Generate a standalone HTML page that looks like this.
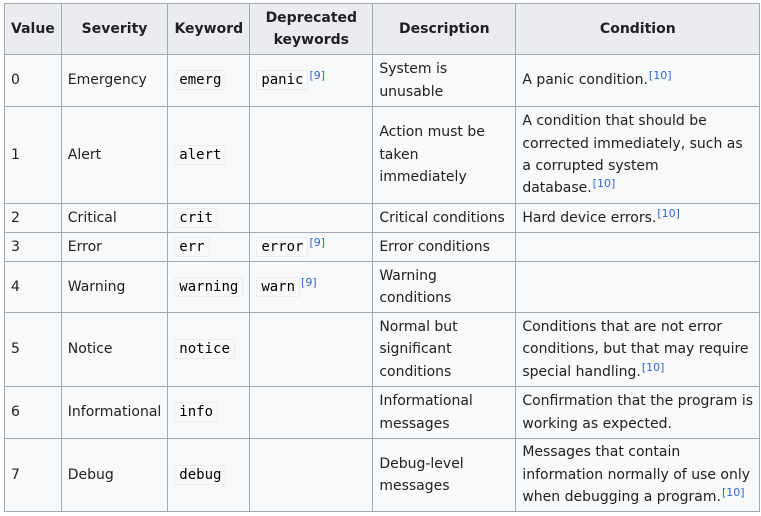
<!DOCTYPE html>
<html><head><meta charset="utf-8"><style>
body{margin:0;background:#fff;}
table{position:absolute;left:4px;top:3px;border-collapse:collapse;font-family:"DejaVu Sans","Liberation Sans",sans-serif;font-size:14px;color:#202122;line-height:22.4px;table-layout:fixed;}
td,th{border:1px solid #a2a9b1;padding:0 6px;vertical-align:middle;background:#f8f9fa;text-align:left;}
th{background:#eaecf0;font-weight:bold;text-align:center;}
code{font-family:"DejaVu Sans Mono","Liberation Mono",monospace;font-size:14px;background:#f8f9fa;border:1px solid #eaecf0;border-radius:2px;padding:1px 4px;color:#000;}
sup{color:#3366cc;font-size:11px;line-height:0;vertical-align:5px;margin-left:1px;}
</style></head><body>
<table>
<colgroup><col style="width:55px"><col style="width:106px"><col style="width:82px"><col style="width:123px"><col style="width:143px"><col style="width:244px"></colgroup>
<tr style="height:51px"><th>Value</th><th>Severity</th><th>Keyword</th><th>Deprecated<br>keywords</th><th>Description</th><th>Condition</th></tr>
<tr style="height:52px"><td>0</td><td>Emergency</td><td><code>emerg</code></td><td><code>panic</code><sup>[9]</sup></td><td>System is<br>unusable</td><td>A panic condition.<sup>[10]</sup></td></tr>
<tr style="height:97px"><td>1</td><td>Alert</td><td><code>alert</code></td><td></td><td>Action must be<br>taken<br>immediately</td><td>A condition that should be<br>corrected immediately, such as<br>a corrupted system<br>database.<sup>[10]</sup></td></tr>
<tr style="height:29px"><td>2</td><td>Critical</td><td><code>crit</code></td><td></td><td>Critical conditions</td><td>Hard device errors.<sup>[10]</sup></td></tr>
<tr style="height:29px"><td>3</td><td>Error</td><td><code>err</code></td><td><code>error</code><sup>[9]</sup></td><td>Error conditions</td><td></td></tr>
<tr style="height:51px"><td>4</td><td>Warning</td><td><code>warning</code></td><td><code>warn</code><sup>[9]</sup></td><td>Warning<br>conditions</td><td></td></tr>
<tr style="height:74px"><td>5</td><td>Notice</td><td><code>notice</code></td><td></td><td>Normal but<br>significant<br>conditions</td><td>Conditions that are not error<br>conditions, but that may require<br>special handling.<sup>[10]</sup></td></tr>
<tr style="height:52px"><td>6</td><td>Informational</td><td><code>info</code></td><td></td><td>Informational<br>messages</td><td>Confirmation that the program is<br>working as expected.</td></tr>
<tr style="height:73px"><td>7</td><td>Debug</td><td><code>debug</code></td><td></td><td>Debug-level<br>messages</td><td>Messages that contain<br>information normally of use only<br>when debugging a program.<sup>[10]</sup></td></tr>
</table>
</body></html>
